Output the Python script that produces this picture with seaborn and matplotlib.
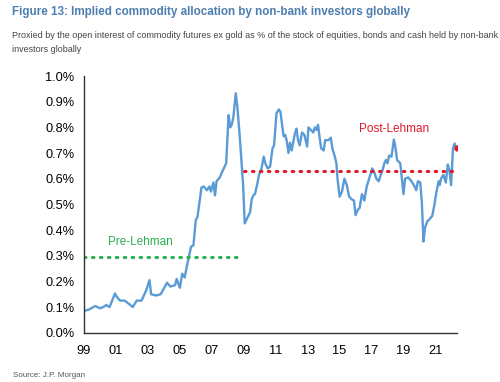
import matplotlib
matplotlib.use("Agg")
import matplotlib.pyplot as plt
import seaborn as sns
import pandas as pd

# Data (year, % allocation)
years = [1999.06, 1999.3, 1999.7, 2000.0, 2000.2, 2000.4, 2000.6, 2000.94, 2001.05, 2001.25,
         2001.55, 2001.9, 2002.05, 2002.3, 2002.6, 2002.9, 2003.1, 2003.2, 2003.5, 2003.8,
         2004.2, 2004.4, 2004.7, 2004.8, 2005.0, 2005.15, 2005.3, 2005.5, 2005.7, 2005.85,
         2006.0, 2006.1, 2006.25, 2006.35, 2006.5, 2006.7, 2006.85, 2006.95, 2007.1, 2007.2,
         2007.3, 2007.5, 2007.6, 2007.75, 2007.9, 2008.05, 2008.15, 2008.25, 2008.35, 2008.5,
         2008.6, 2008.75, 2008.96, 2009.06, 2009.4, 2009.5, 2009.6, 2009.7, 2009.85, 2009.95,
         2010.1, 2010.25, 2010.35, 2010.5, 2010.65, 2010.8, 2010.9, 2011.05, 2011.2, 2011.3,
         2011.4, 2011.5, 2011.6, 2011.7, 2011.8, 2011.9, 2012.0, 2012.2, 2012.3, 2012.4,
         2012.5, 2012.65, 2012.8, 2012.97, 2013.05, 2013.2, 2013.35, 2013.45, 2013.55, 2013.65,
         2013.75, 2013.85, 2014.0, 2014.1, 2014.3, 2014.45, 2014.55, 2014.7, 2014.8, 2014.87,
         2015.0, 2015.15, 2015.3, 2015.45, 2015.6, 2015.75, 2015.9, 2016.0, 2016.15, 2016.25,
         2016.4, 2016.55, 2016.7, 2016.9, 2017.05, 2017.2, 2017.3, 2017.45, 2017.55, 2017.7,
         2017.8, 2017.9, 2018.0, 2018.1, 2018.25, 2018.4, 2018.5, 2018.6, 2018.7, 2018.8,
         2018.9, 2019.0, 2019.1, 2019.3, 2019.5, 2019.65, 2019.8, 2019.9, 2020.05, 2020.15,
         2020.25, 2020.35, 2020.5, 2020.6, 2020.8, 2020.94, 2021.05, 2021.2, 2021.27, 2021.35,
         2021.5, 2021.65, 2021.77, 2021.87, 2021.98, 2022.1, 2022.2, 2022.3]
values = [0.086, 0.090, 0.104, 0.095, 0.100, 0.108, 0.100, 0.153, 0.140, 0.125,
          0.125, 0.108, 0.100, 0.125, 0.125, 0.166, 0.205, 0.150, 0.145, 0.150,
          0.195, 0.180, 0.185, 0.210, 0.175, 0.230, 0.215, 0.277, 0.335, 0.340,
          0.440, 0.450, 0.517, 0.565, 0.570, 0.555, 0.570, 0.550, 0.585, 0.535,
          0.590, 0.605, 0.620, 0.640, 0.660, 0.848, 0.800, 0.810, 0.840, 0.933,
          0.880, 0.764, 0.577, 0.426, 0.470, 0.520, 0.535, 0.540, 0.580, 0.615,
          0.635, 0.686, 0.660, 0.640, 0.647, 0.718, 0.730, 0.855, 0.870, 0.860,
          0.810, 0.765, 0.770, 0.745, 0.700, 0.740, 0.710, 0.775, 0.795, 0.750,
          0.730, 0.780, 0.770, 0.725, 0.800, 0.790, 0.780, 0.800, 0.790, 0.810,
          0.760, 0.718, 0.710, 0.750, 0.750, 0.760, 0.718, 0.686, 0.660, 0.600,
          0.530, 0.550, 0.600, 0.575, 0.530, 0.520, 0.515, 0.458, 0.480, 0.485,
          0.540, 0.515, 0.570, 0.610, 0.640, 0.620, 0.600, 0.590, 0.610, 0.635,
          0.660, 0.673, 0.660, 0.690, 0.686, 0.753, 0.720, 0.673, 0.666, 0.660,
          0.600, 0.540, 0.600, 0.605, 0.590, 0.575, 0.555, 0.590, 0.585, 0.507,
          0.355, 0.410, 0.435, 0.440, 0.455, 0.500, 0.545, 0.590, 0.575, 0.600,
          0.615, 0.585, 0.655, 0.635, 0.575, 0.718, 0.737, 0.720]

pre_lehman = {"label": "Pre-Lehman", "start": 1999.0, "end": 2008.9, "level": 0.295}
post_lehman = {"label": "Post-Lehman", "start": 2009.0, "end": 2022.25, "level": 0.630}
latest = {"year": 2022.35, "value": 0.718}

xtick_years = [1999, 2001, 2003, 2005, 2007, 2009, 2011, 2013, 2015, 2017, 2019, 2021]
xtick_labels = ["99", "01", "03", "05", "07", "09", "11", "13", "15", "17", "19", "21"]
ytick_vals = [0.0, 0.1, 0.2, 0.3, 0.4, 0.5, 0.6, 0.7, 0.8, 0.9, 1.0]

df = pd.DataFrame({"year": years, "value": values})

sns.set_style("white")
plt.rcParams["font.family"] = ["Liberation Sans", "DejaVu Sans"]

fig = plt.figure(figsize=(5.0, 3.82), dpi=100)
ax = fig.add_axes([0.168, 0.129, 0.746, 0.672])

blue = "#5b9bd5"
green = "#2ab04f"
red = "#e0192b"

sns.lineplot(data=df, x="year", y="value", ax=ax, color=blue, linewidth=1.7)

pre = pd.DataFrame({"year": [pre_lehman["start"], pre_lehman["end"]],
                    "value": [pre_lehman["level"]] * 2})
post = pd.DataFrame({"year": [post_lehman["start"], post_lehman["end"]],
                     "value": [post_lehman["level"]] * 2})
sns.lineplot(data=pre, x="year", y="value", ax=ax, color=green, linewidth=2.2,
             linestyle=(0, (0.5, 2.1)), dash_capstyle="round")
sns.lineplot(data=post, x="year", y="value", ax=ax, color=red, linewidth=2.2,
             linestyle=(0, (0.5, 2.1)), dash_capstyle="round")
ax.plot([latest["year"]], [latest["value"]], marker="o", color=red, markersize=3.5)

ax.text(2002.5, 0.355, pre_lehman["label"], color=green, fontsize=8.5, ha="center", va="center")
ax.text(2018.4, 0.795, post_lehman["label"], color=red, fontsize=8.5, ha="center", va="center")

ax.set_xlim(1999, 2022.35)
ax.set_ylim(0, 1.0)
ax.set_xticks(xtick_years)
ax.set_xticklabels(xtick_labels)
ax.set_yticks(ytick_vals)
ax.set_yticklabels([f"{v:.1f}%" for v in ytick_vals])
ax.set_xlabel("")
ax.set_ylabel("")
ax.tick_params(axis="both", labelsize=9.2, colors="#000000")
ax.tick_params(axis="x", direction="inout", length=5, width=1, color="#333333", pad=6)
ax.tick_params(axis="y", direction="out", length=3, width=1, color="#333333", pad=4)
for s in ["top", "right"]:
    ax.spines[s].set_visible(False)
for s in ["left", "bottom"]:
    ax.spines[s].set_color("#333333")
    ax.spines[s].set_linewidth(1.0)
ax.grid(False)

fig.text(0.024, 0.968, "Figure 13: Implied commodity allocation by non-bank investors globally",
         fontsize=8.4, fontweight="bold", color="#4e7eb0", ha="left", va="center")
fig.text(0.024, 0.908, "Proxied by the open interest of commodity futures ex gold as % of the stock of equities, bonds and cash held by non-bank",
         fontsize=6.45, color="#444444", ha="left", va="center")
fig.text(0.024, 0.870, "investors globally", fontsize=6.45, color="#444444", ha="left", va="center")
fig.text(0.026, 0.018, "Source: J.P. Morgan", fontsize=5.8, color="#555555", ha="left", va="center")

fig.savefig("out.png", dpi=100)
